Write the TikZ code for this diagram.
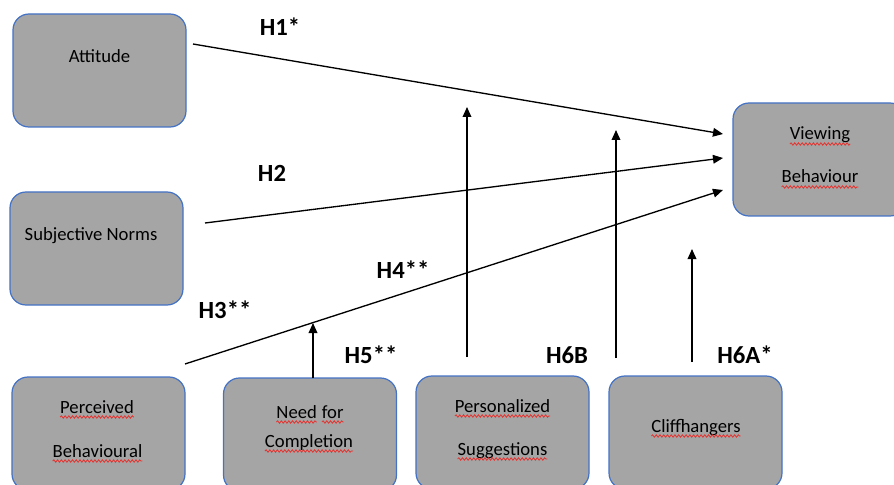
\documentclass[tikz,border=0pt]{standalone}
\usepackage{fontspec}
\setmainfont{Carlito}
\usetikzlibrary{arrows.meta,decorations.pathmorphing}
\definecolor{boxgrey}{HTML}{A5A5A5}
\definecolor{boxblue}{HTML}{4472C4}
\definecolor{spellred}{HTML}{E8302C}
\newcommand\wavy[1]{\tikz[baseline=(w.base)]{\node[inner sep=0pt,outer sep=0pt,anchor=base] (w) at (0,0) {#1};
\draw[spellred,line width=0.6pt,decorate,decoration={snake,amplitude=0.9pt,segment length=2.8pt}] ([yshift=-3pt]w.base west) -- ([yshift=-3pt]w.base east);}}
\begin{document}
\begin{tikzpicture}[x=0.75pt,y=-0.75pt,
  box/.style={draw=boxblue,fill=boxgrey,line width=0.9pt,rounded corners=12pt,minimum width=129.75pt,minimum height=84.75pt},
  word/.style={font=\fontsize{14}{16}\selectfont,anchor=base,inner sep=0pt},
  hyp/.style={font=\bfseries\fontsize{18.5}{21}\selectfont,inner sep=0pt},
  link/.style={line width=1pt,-{Triangle[length=7.5pt,width=6.5pt]}}]
\clip (0,0) rectangle (894,485);

\node[box] (att) at (99.5,70.5) {};
\node[box] (sn) at (96.5,248.5) {};
\node[box] (pbc) at (98.5,433.5) {};
\node[box] (nfc) at (310,434.5) {};
\node[box] (ps) at (502.5,432.5) {};
\node[box] (cli) at (695.5,432.5) {};
\node[box] (vb) at (819.5,159.5) {};

\node[word] (att-t) at (99.5,63) {Attitude};
\node[word] (sn-t) at (91,241) {Subjective Norms};
\node[word] (pbc-t1) at (97,413) {\wavy{Perceived}};
\node[word] (pbc-t2) at (97.5,457) {\wavy{Behavioural}};
\node[word] (nfc-t1) at (310,418) {\wavy{Need} \wavy{for}};
\node[word] (nfc-t2) at (309,447) {\wavy{Completion}};
\node[word] (ps-t1) at (502.5,412) {\wavy{Personalized}};
\node[word] (ps-t2) at (502.5,455) {\wavy{Suggestions}};
\node[word] (cli-t) at (696,432) {\wavy{Cliffhangers}};
\node[word] (vb-t1) at (820,140) {\wavy{Viewing}};
\node[word] (vb-t2) at (820,183) {\wavy{Behaviour}};

\coordinate (h1s) at (193,44); \coordinate (h1e) at (723,134);
\coordinate (h2s) at (205,223); \coordinate (h2e) at (723,158);
\coordinate (h3s) at (185,364); \coordinate (h3e) at (723,190);
\coordinate (m5s) at (313,378); \coordinate (m5e) at (313,323);
\coordinate (m6s) at (467,357); \coordinate (m6e) at (467,107);
\coordinate (m7s) at (616,358); \coordinate (m7e) at (616,130);
\coordinate (m8s) at (692,362); \coordinate (m8e) at (692,249);

\draw[link] (h1s)--(h1e);
\draw[link] (h2s)--(h2e);
\draw[link] (h3s)--(h3e);
\draw[link] (m5s)--(m5e);
\draw[link] (m6s)--(m6e);
\draw[link] (m7s)--(m7e);
\draw[link] (m8s)--(m8e);

\node[hyp] (h1) at (280,27) {H1*};
\node[hyp] (h2) at (272,173) {H2};
\node[hyp] (h3) at (225,310) {H3**};
\node[hyp] (h4) at (403,270) {H4**};
\node[hyp] (h5) at (371,355) {H5**};
\node[hyp] (h6b) at (567,355) {H6B};
\node[hyp] (h6a) at (745,355) {H6A*};
\end{tikzpicture}
\end{document}
